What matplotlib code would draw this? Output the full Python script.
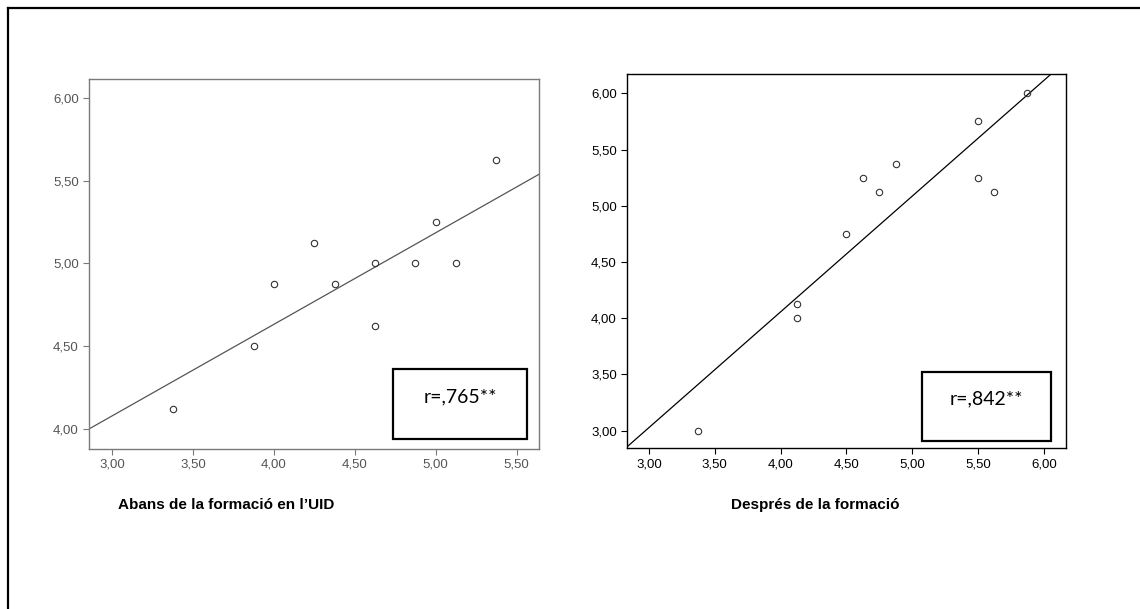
import numpy as np
import matplotlib
matplotlib.use("Agg")
import matplotlib.pyplot as plt
from matplotlib.patches import Rectangle
from matplotlib.lines import Line2D
from matplotlib.ticker import FuncFormatter

# Scores before training (x) vs. self-assessment (y)
before_x = [3.375, 3.875, 4.000, 4.250, 4.375, 4.625, 4.625, 4.875, 5.000, 5.125, 5.375]
before_y = [4.125, 4.500, 4.875, 5.125, 4.875, 5.000, 4.625, 5.000, 5.250, 5.000, 5.625]

# Scores after training
after_x = [3.375, 4.125, 4.125, 4.500, 4.625, 4.750, 4.875, 5.500, 5.500, 5.625, 5.875]
after_y = [3.000, 4.125, 4.000, 4.750, 5.250, 5.125, 5.375, 5.750, 5.250, 5.125, 6.000]

before_xticks = [3.0, 3.5, 4.0, 4.5, 5.0, 5.5]
before_yticks = [4.0, 4.5, 5.0, 5.5, 6.0]
after_xticks = [3.0, 3.5, 4.0, 4.5, 5.0, 5.5, 6.0]
after_yticks = [3.0, 3.5, 4.0, 4.5, 5.0, 5.5, 6.0]

before_r = "r=,765**"
after_r = "r=,842**"
before_title = "Abans de la formació en l’UID"
after_title = "Després de la formació"

comma_fmt = FuncFormatter(lambda v, p: f"{v:.2f}".replace(".", ","))

fig = plt.figure(figsize=(11.4, 6.09), dpi=100)
fig.patch.set_facecolor("white")

W, H = 1140, 609


def px_axes(x0, y0, x1, y1):
    return fig.add_axes([x0 / W, 1 - y1 / H, (x1 - x0) / W, (y1 - y0) / H])


def panel(ax, xs, ys, xlim, ylim, xticks, yticks, fg, label_col, line_col, rtext, box):
    ax.set_xlim(*xlim)
    ax.set_ylim(*ylim)
    ax.set_xticks(xticks)
    ax.set_yticks(yticks)
    ax.xaxis.set_major_formatter(comma_fmt)
    ax.yaxis.set_major_formatter(comma_fmt)
    for s in ax.spines.values():
        s.set_color(fg)
        s.set_linewidth(1.0)
    ax.tick_params(direction="out", length=4.5, width=0.8, color=fg,
                   labelcolor=label_col, labelsize=9.5, pad=3)
    for lab in ax.get_xticklabels() + ax.get_yticklabels():
        lab.set_fontfamily("Liberation Sans")

    # least-squares fit line across the full x range
    slope, icpt = np.polyfit(xs, ys, 1)
    xx = np.array(xlim)
    ax.plot(xx, icpt + slope * xx, color=line_col, lw=0.9, zorder=2)
    ax.plot(xs, ys, linestyle="none", marker="o", markersize=4.6,
            markerfacecolor="none", markeredgecolor="#333333",
            markeredgewidth=0.8, zorder=3)

    bx0, by0, bx1, by1 = box
    ax.add_patch(Rectangle((bx0, by0), bx1 - bx0, by1 - by0,
                           transform=ax.transAxes, fill=True, facecolor="white",
                           edgecolor="black", linewidth=1.6, zorder=4))
    ax.text((bx0 + bx1) / 2, (by0 + by1) / 2 + 0.02, rtext,
            transform=ax.transAxes, ha="center", va="center",
            fontsize=14, family="Lato", color="black", zorder=5)


ax1 = px_axes(89.3, 79.3, 539, 448.5)
panel(ax1, before_x, before_y, (2.86, 5.638), (3.884, 6.111),
      before_xticks, before_yticks, "#7a7a7a", "#555555", "#555555",
      before_r, (0.675, 0.025, 0.974, 0.2145))

ax2 = px_axes(627.3, 74.3, 1066, 448.3)
panel(ax2, after_x, after_y, (2.835, 6.169), (2.843, 6.169),
      after_xticks, after_yticks, "black", "black", "black",
      after_r, (0.671, 0.020, 0.965, 0.204))

fig.text(226 / W, 1 - 505 / H, before_title, ha="center", va="center",
         fontsize=11, fontweight="bold", family="Liberation Sans")
fig.text(815 / W, 1 - 505 / H, after_title, ha="center", va="center",
         fontsize=11, fontweight="bold", family="Liberation Sans")

# outer frame (left and top edges)
fig.add_artist(Line2D([7.5 / W, 7.5 / W], [0, 1 - 8 / H], color="black",
                      lw=1.6, transform=fig.transFigure))
fig.add_artist(Line2D([7.5 / W, 1], [1 - 8 / H, 1 - 8 / H], color="black",
                      lw=1.6, transform=fig.transFigure))

fig.savefig("out.png", dpi=100)
